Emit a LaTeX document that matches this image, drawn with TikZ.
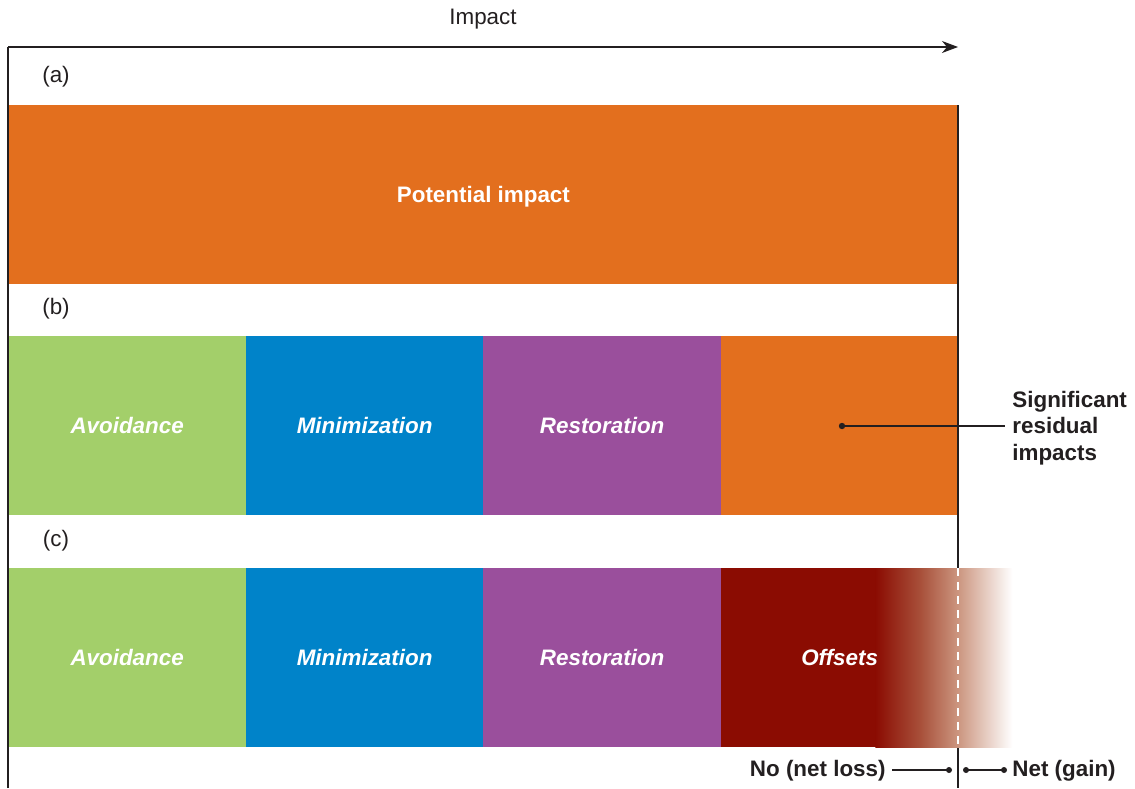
\documentclass[tikz,border=0pt]{standalone}
\usepackage{fontspec}
\setmainfont{Liberation Sans}
\usetikzlibrary{arrows.meta}
\definecolor{ink}{HTML}{231F20}
\definecolor{impor}{HTML}{E36F1E}
\definecolor{avgreen}{HTML}{A3CF6A}
\definecolor{minblue}{HTML}{0083C9}
\definecolor{respurple}{HTML}{9A4F9C}
\definecolor{offred}{HTML}{8B0C02}
\definecolor{offmid}{HTML}{A8503A}
\definecolor{offlight}{HTML}{CC9680}
\pgfdeclarehorizontalshading{offfade}{100bp}{color(0bp)=(offred); color(25bp)=(offred); color(41.4bp)=(offmid); color(55.3bp)=(offlight); color(75bp)=(white); color(100bp)=(white)}
\tikzset{
  txt/.style={font=\fontsize{11.2}{13.4}\selectfont, text=ink, inner sep=0pt},
  boldtxt/.style={txt, font=\fontsize{11.2}{13.4}\selectfont\bfseries},
  seg/.style={anchor=north west, inner sep=0pt, minimum width=118.75pt, minimum height=89.5pt, text=white, font=\fontsize{11.2}{13.4}\selectfont\bfseries\itshape},
  axis/.style={ink, line width=0.6pt},
  lead/.style={ink, line width=0.6pt},
  dotc/.style={fill=ink, draw=none},
}
\begin{document}
\begin{tikzpicture}[x=0.5pt, y=-0.5pt]
\useasboundingbox (0,0) rectangle (1135,788);
% row (a)
\node[seg, fill=impor, minimum width=475pt] (pot) at (8,105) {};
\node[boldtxt, text=white] at ([yshift=-1pt]pot.center) {Potential impact};
% row (b)
\node[seg, fill=avgreen] (bav) at (8,336) {Avoidance};
\node[seg, fill=minblue] (bmin) at (245.5,336) {Minimization};
\node[seg, fill=respurple] (bres) at (483,336) {Restoration};
\node[seg, fill=impor] (bsig) at (720.5,336) {};
% row (c)
\node[seg, fill=avgreen] (cav) at (8,568) {Avoidance};
\node[seg, fill=minblue] (cmin) at (245.5,568) {Minimization};
\node[seg, fill=respurple] (cres) at (483,568) {Restoration};
\node[seg, fill=offred, minimum width=78pt] (coff) at (720.5,568) {};
% axes
\coordinate (o) at (8,47);
\coordinate (xend) at (958,47);
\coordinate (lbot) at (8,788);
\coordinate (rtop) at (958,105);
\coordinate (rbot) at (958,788);
\draw[axis] (lbot) -- (o);
\draw[axis, -{Stealth[length=8pt,width=6pt,inset=2.5pt]}] (o) -- (xend);
\draw[axis] (rtop) -- (rbot);
\node[txt] (imp) at (483,19) {Impact};
\node[txt] (la) at (56,77) {(a)};
\node[txt] (lb) at (56,309) {(b)};
\node[txt] (lc) at (56,541) {(c)};
% offsets fade
\node[seg, shading=offfade, minimum width=68.5pt, minimum height=89.4pt] (cfade) at (875,568) {};
\node[seg, text=white, minimum width=118.75pt] (cofftxt) at (720.5,568) {Offsets};
\coordinate (dtop) at (958,568);
\coordinate (dbot) at (958,747);
\draw[white, line width=0.8pt, dash pattern=on 4pt off 3pt] (dtop) -- (dbot);
% significant residual impacts
\coordinate (sigdot) at (842,426);
\node[boldtxt, anchor=west, align=left] (sig) at (1012,428) {Significant\\residual\\impacts};
\coordinate (sigend) at (1005,426);
\fill[dotc] (sigdot) circle (1.6pt);
\draw[lead] (sigdot) -- (sigend);
% bottom labels
\node[boldtxt, anchor=east] (noloss) at (886,771) {No (net loss)};
\coordinate (nl1) at (892,770);
\coordinate (nl2) at (949,770);
\draw[lead] (nl1) -- (nl2);
\fill[dotc] (nl2) circle (1.5pt);
\node[boldtxt, anchor=west] (netgain) at (1012,771) {Net (gain)};
\coordinate (ng1) at (966,770);
\coordinate (ng2) at (1004,770);
\draw[lead] (ng1) -- (ng2);
\fill[dotc] (ng1) circle (1.5pt);
\fill[dotc] (ng2) circle (1.5pt);
\end{tikzpicture}
\end{document}
